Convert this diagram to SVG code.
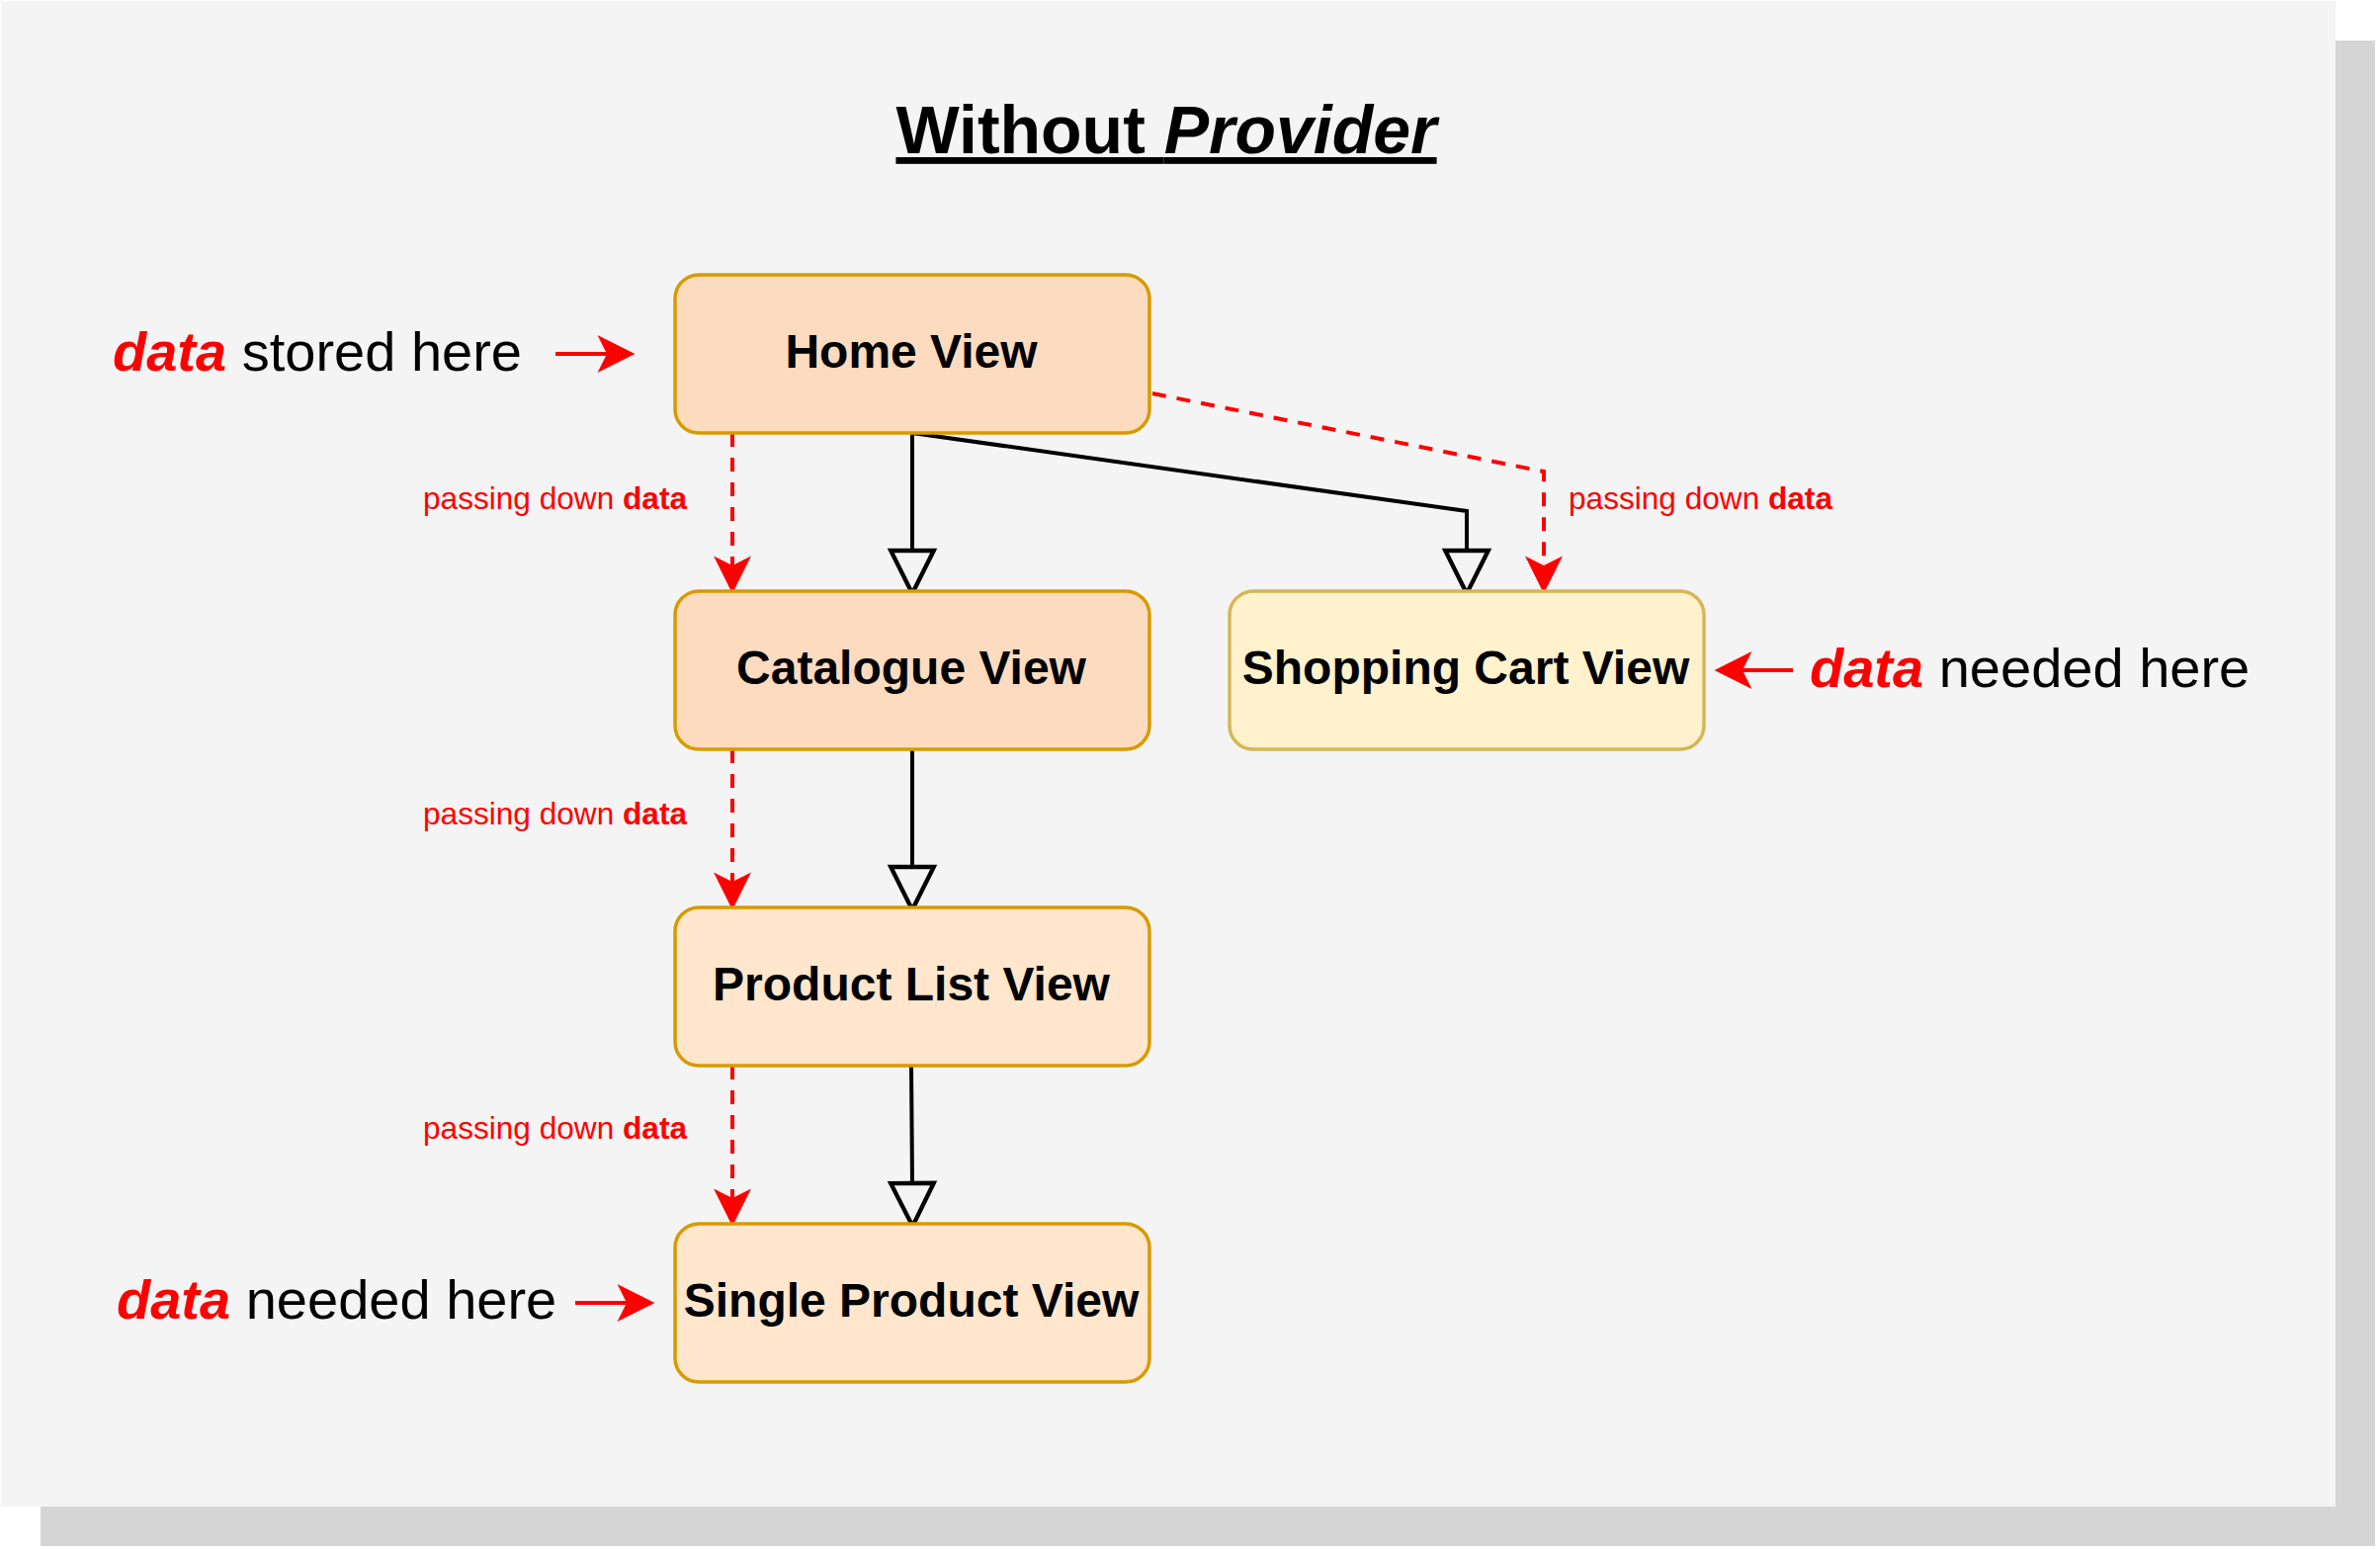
<svg xmlns="http://www.w3.org/2000/svg" width="2408" height="1568" viewBox="0 0 2408 1568">
<style>
  text { font-family: "Liberation Sans", Arial, Helvetica, sans-serif; }
  .box { stroke-width: 3.5; }
  .orange { fill: #fddbbf; stroke: #d79b00; }
  .light { fill: #ffe6cc; stroke: #d79b00; }
  .yellow { fill: #fff2cc; stroke: #d6b656; }
  .lbl { font-size: 48px; font-weight: bold; fill: #000; text-anchor: middle; }
  .side { font-size: 56px; fill: #000; }
  .red { fill: #ff0000; font-weight: bold; font-style: italic; }
  .small { font-size: 31.6px; fill: #ff0000; }
  .solid { fill: none; stroke: #000; stroke-width: 4; marker-end: url(#block); }
  .dash { fill: none; stroke: #ff0000; stroke-width: 4; stroke-dasharray: 14 11; marker-end: url(#classic); }
  .redline { fill: none; stroke: #ff0000; stroke-width: 4; marker-end: url(#classic); }
</style>
<defs>
  <marker id="block" markerUnits="userSpaceOnUse" markerWidth="50" markerHeight="50" viewBox="-2 -23 46 46" refX="0" refY="0" orient="auto" overflow="visible">
    <path d="M0,-20 L40,0 L0,20 Z" fill="none" stroke="#000" stroke-width="4" stroke-linejoin="miter"/>
  </marker>
  <marker id="classic" markerUnits="userSpaceOnUse" markerWidth="40" markerHeight="40" viewBox="0 -19 37 38" refX="9" refY="0" orient="auto" overflow="visible">
    <path d="M0,-18 L36,0 L0,18 L9,0 Z" fill="#ff0000" stroke="none"/>
  </marker>
</defs>

<g id="background">
  <rect x="41" y="41" width="2362" height="1523" fill="#d5d5d5"/>
  <rect x="1" y="1" width="2362" height="1523" fill="#f4f4f4"/>
</g>

<g id="title">
  <text x="1180" y="155" font-size="68" font-weight="bold" text-anchor="middle" text-decoration="underline" fill="#000">Without <tspan font-style="italic">Provider</tspan></text>
</g>

<g id="connectors">
  <path class="solid" d="M923,438 V557"/>
  <path class="solid" d="M923,758 V877"/>
  <path class="solid" d="M922,1078 L923,1197"/>
  <path class="solid" d="M923,438 L1484,517 V557"/>
  <path class="dash" d="M741,438 V572"/>
  <path class="dash" d="M741,758 V892"/>
  <path class="dash" d="M741,1078 V1212"/>
  <path class="dash" d="M1166,398 L1562,477 V572"/>
  <path class="redline" d="M562,358 H614"/>
  <path class="redline" d="M1814,678 H1763"/>
  <path class="redline" d="M582,1318 H634"/>
</g>

<g id="home-view">
  <rect class="box orange" x="683" y="278" width="480" height="160" rx="24"/>
  <text class="lbl" x="922" y="372">Home View</text>
</g>
<g id="catalogue-view">
  <rect class="box orange" x="683" y="598" width="480" height="160" rx="24"/>
  <text class="lbl" x="922" y="692">Catalogue View</text>
</g>
<g id="shopping-cart-view">
  <rect class="box yellow" x="1244" y="598" width="480" height="160" rx="24"/>
  <text class="lbl" x="1483" y="692">Shopping Cart View</text>
</g>
<g id="product-list-view">
  <rect class="box light" x="683" y="918" width="480" height="160" rx="24"/>
  <text class="lbl" x="922" y="1012">Product List View</text>
</g>
<g id="single-product-view">
  <rect class="box light" x="683" y="1238" width="480" height="160" rx="24"/>
  <text class="lbl" x="922" y="1332">Single Product View</text>
</g>

<g id="labels">
  <text class="side" x="114" y="375"><tspan class="red">data</tspan> stored here</text>
  <text class="side" x="1831" y="695"><tspan class="red">data</tspan> needed here</text>
  <text class="side" x="118" y="1334"><tspan class="red">data</tspan> needed here</text>
  <text class="small" x="695" y="515" text-anchor="end">passing down <tspan font-weight="bold">data</tspan></text>
  <text class="small" x="695" y="834" text-anchor="end">passing down <tspan font-weight="bold">data</tspan></text>
  <text class="small" x="695" y="1152" text-anchor="end">passing down <tspan font-weight="bold">data</tspan></text>
  <text class="small" x="1587" y="515">passing down <tspan font-weight="bold">data</tspan></text>
</g>
</svg>
